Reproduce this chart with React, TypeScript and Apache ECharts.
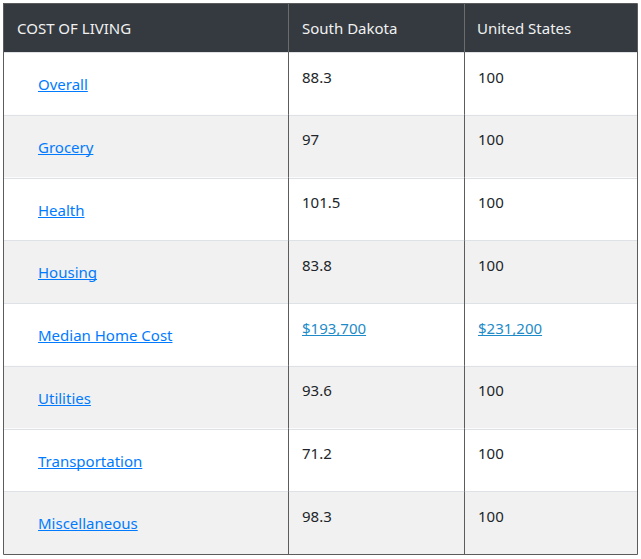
import React, { useEffect, useRef } from "react";
import * as echarts from "echarts";

const HEADERS = ["COST OF LIVING", "South Dakota", "United States"];
const CATEGORIES = [
  "Overall",
  "Grocery",
  "Health",
  "Housing",
  "Median Home Cost",
  "Utilities",
  "Transportation",
  "Miscellaneous",
];
const SOUTH_DAKOTA = [88.3, 97, 101.5, 83.8, 193700, 93.6, 71.2, 98.3];
const UNITED_STATES = [100, 100, 100, 100, 231200, 100, 100, 100];
const MONEY_ROWS = ["Median Home Cost"];

// layout (pixels)
const W = 641;
const H = 559;
const TABLE_LEFT = 3;
const TABLE_TOP = 3;
const TABLE_RIGHT = 637;
const HEADER_BOTTOM = 52;
const TABLE_BOTTOM = 554;
const COL_EDGES = [0, 285, 461, 634];
const FONT_FAMILY = "'Noto Sans', 'Open Sans', sans-serif";
const FONT_SIZE = 15;
const FONT = `${FONT_SIZE}px ${FONT_FAMILY}`;

function measure(text: string): number {
  const c = document.createElement("canvas");
  const ctx = c.getContext("2d");
  if (!ctx) return text.length * 8;
  ctx.font = FONT;
  return ctx.measureText(text).width;
}

function fmtValue(v: number, row: number): string {
  if (MONEY_ROWS.includes(CATEGORIES[row])) {
    return "$" + v.toLocaleString("en-US");
  }
  return String(v);
}

export default function App() {
  const ref = useRef<HTMLDivElement>(null);
  useEffect(() => {
    if (!ref.current) return;
    const chart = echarts.init(ref.current, null, { renderer: "svg" });
    const data: number[][] = [];
    CATEGORIES.forEach((_, r) => {
      for (let c = 0; c < 3; c++) data.push([c, r]);
    });
    const cellText = (c: number, r: number) =>
      c === 0
        ? CATEGORIES[r]
        : fmtValue(c === 1 ? SOUTH_DAKOTA[r] : UNITED_STATES[r], r);

    const renderItem = (params: any, api: any) => {
      const c = api.value(0) as number;
      const r = api.value(1) as number;
      const x0 = api.coord([COL_EDGES[c], r])[0];
      const x1 = api.coord([COL_EDGES[c + 1], r])[0];
      const yc = api.coord([0, r])[1];
      const h = api.size([0, 1])[1];
      const y0 = yc - h / 2;
      const text = cellText(c, r);
      const isLink = c === 0 || MONEY_ROWS.includes(CATEGORIES[r]);
      const color =
        c === 0 ? "#007bff" : isLink ? "#1e8bc8" : "#212529";
      const tx = c === 0 ? x0 + 35 : x0 + 14;
      const ty = c === 0 ? y0 + 32 : y0 + 24.5;
      const children: any[] = [
        {
          type: "rect",
          shape: { x: x0, y: y0, width: x1 - x0, height: h },
          style: { fill: r % 2 === 1 ? "#f1f1f1" : "#ffffff" },
        },
        {
          type: "line",
          shape: { x1: x0, y1: Math.round(y0) + 0.5, x2: x1, y2: Math.round(y0) + 0.5 },
          style: { stroke: "#dee2e6", lineWidth: 1 },
        },
        {
          type: "text",
          style: {
            text,
            x: tx,
            y: ty,
            font: FONT,
            fill: color,
            align: "left",
            verticalAlign: "middle",
          },
        },
      ];
      if (isLink) {
        const w = measure(text);
        const uy = Math.round(ty + 7) + 0.5;
        children.push({
          type: "line",
          shape: { x1: tx, y1: uy, x2: tx + w, y2: uy },
          style: { stroke: color, lineWidth: 1 },
        });
      }
      if (c > 0) {
        const lx = Math.round(x0) + 0.5;
        children.push({
          type: "line",
          shape: { x1: lx, y1: y0, x2: lx, y2: y0 + h },
          style: { stroke: "#5c5c5c", lineWidth: 1 },
          z2: 10,
        });
      }
      return { type: "group", children };
    };

    const headerX = [17, 302, 477];
    const graphics: any[] = [
      {
        type: "rect",
        shape: {
          x: TABLE_LEFT,
          y: TABLE_TOP,
          width: TABLE_RIGHT - TABLE_LEFT,
          height: HEADER_BOTTOM - TABLE_TOP,
        },
        style: { fill: "#343a40" },
        z: 1,
      },
      ...HEADERS.map((t, i) => ({
        type: "text",
        style: {
          text: t,
          x: headerX[i],
          y: 28,
          font: FONT,
          fill: "#f1f1f1",
          align: "left",
          verticalAlign: "middle",
        },
        z: 2,
      })),
      ...[1, 2].map((i) => ({
        type: "line",
        shape: {
          x1: TABLE_LEFT + COL_EDGES[i] + 0.5,
          y1: TABLE_TOP,
          x2: TABLE_LEFT + COL_EDGES[i] + 0.5,
          y2: HEADER_BOTTOM,
        },
        style: { stroke: "#6c6c6c", lineWidth: 1 },
        z: 2,
      })),
      {
        type: "rect",
        shape: {
          x: TABLE_LEFT + 0.5,
          y: TABLE_TOP + 0.5,
          width: TABLE_RIGHT - TABLE_LEFT,
          height: TABLE_BOTTOM - TABLE_TOP,
        },
        style: { fill: "none", stroke: "#5c5c5c", lineWidth: 1 },
        z: 100,
      },
    ];

    chart.setOption({
      animation: false,
      backgroundColor: "#ffffff",
      grid: {
        left: TABLE_LEFT,
        right: W - TABLE_RIGHT,
        top: HEADER_BOTTOM,
        bottom: H - TABLE_BOTTOM,
      },
      xAxis: { type: "value", min: 0, max: COL_EDGES[3], show: false },
      yAxis: { type: "category", data: CATEGORIES, inverse: true, show: false },
      tooltip: { show: false },
      graphic: graphics,
      series: [
        {
          type: "custom",
          renderItem,
          data,
          silent: true,
        },
      ],
    });
    return () => chart.dispose();
  }, []);
  return (
    <div style={{ position: "fixed", left: 0, top: 0, width: W, height: H }}>
      <div ref={ref} style={{ width: W, height: H }} />
    </div>
  );
}
